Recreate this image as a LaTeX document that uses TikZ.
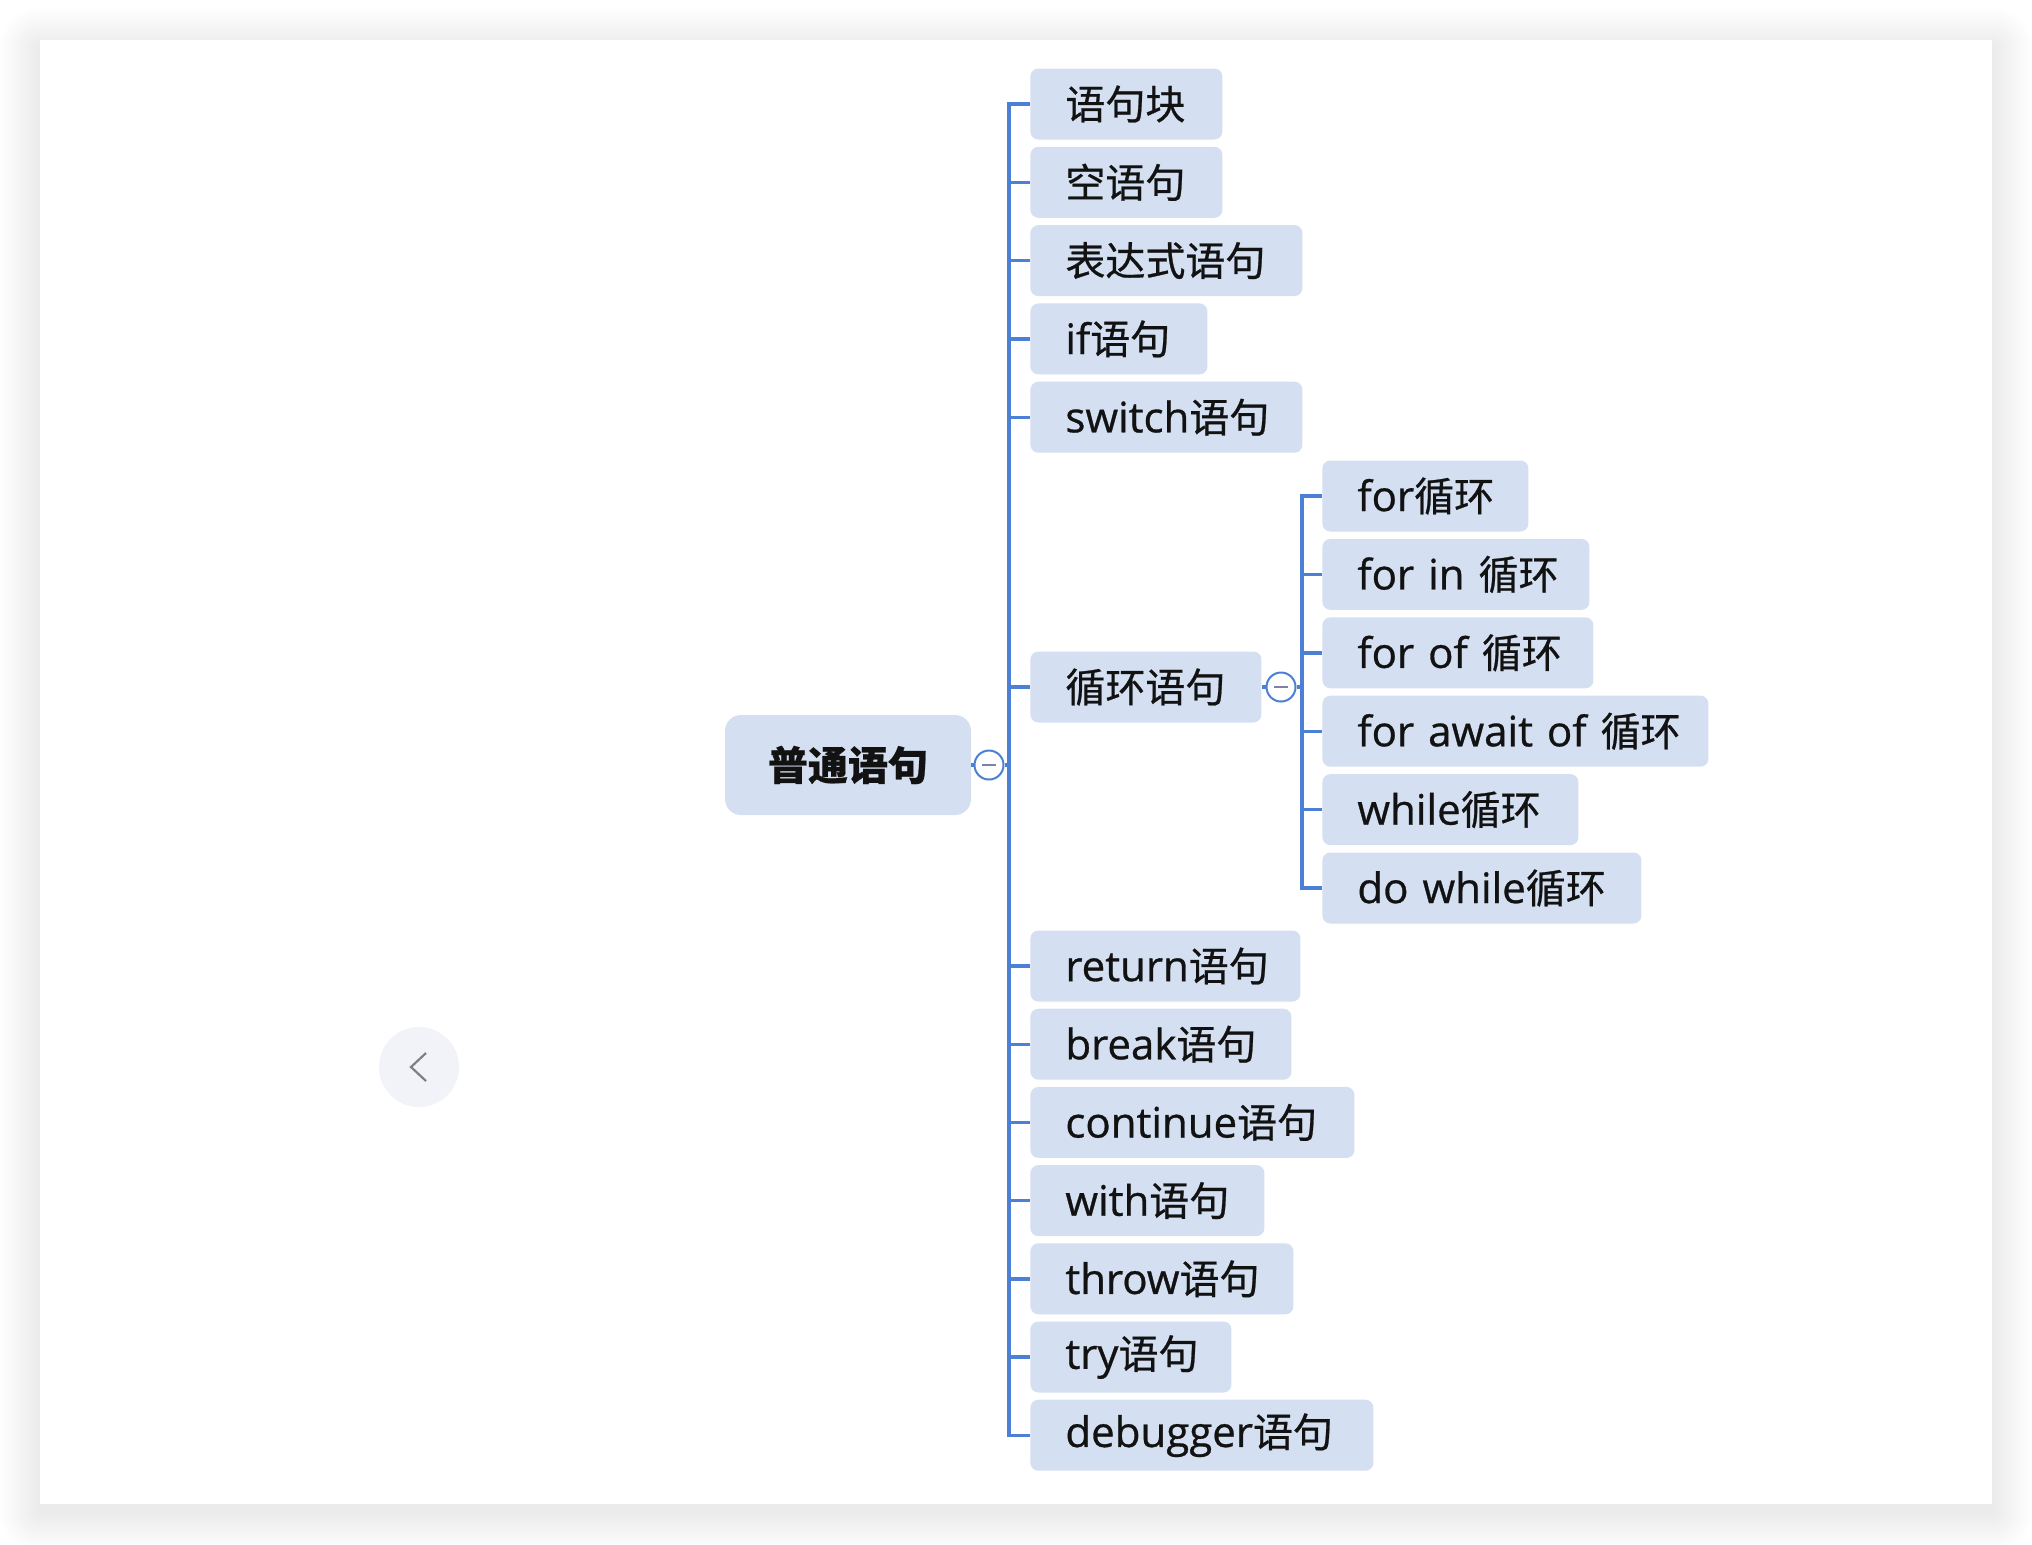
\documentclass[tikz,border=0pt]{standalone}
\usepackage{fontspec}
\setmainfont[FakeBold=0.7]{Open Sans}
\newfontfamily\zhfont[FakeBold=0.6]{Noto Sans CJK SC}
\newcommand\zh[1]{{\zhfont\fontsize{20}{25}\selectfont #1}}

\definecolor{linkblue}{RGB}{76,128,212}
\definecolor{boxblue}{RGB}{212,224,241}
\definecolor{minusgray}{RGB}{125,128,175}
\definecolor{btngray}{RGB}{242,243,249}
\definecolor{chevgray}{RGB}{128,128,128}
\definecolor{inkblack}{RGB}{18,18,18}

\tikzset{
  topic/.style={fill=boxblue, rounded corners=4pt, minimum height=35.5pt, inner xsep=17.5pt, inner ysep=0pt, anchor=west, align=left, text=inkblack, font=\fontsize{21}{25}\selectfont},
  branch/.style={draw=linkblue, line width=1.7pt},
  fold/.style={circle, draw=linkblue, line width=1pt, fill=white, minimum size=14.5pt, inner sep=0pt},
  foldbar/.style={draw=minusgray, line width=1.2pt}
}

\begin{document}
\begin{tikzpicture}[x=0.5pt, y={(0pt,-0.5pt)}]
\useasboundingbox (0,0) rectangle (2032,1544);

% page, card and its shadow
\fill[white] (0,0) rectangle (2032,1544);
\foreach \k in {1,...,20}
\fill[black, opacity=0.0042, rounded corners=\k pt] (40-2*\k,48-2*\k) rectangle (1992+2*\k,1512+2*\k);
\fill[white] (40,40) rectangle (1992,1504);

% back button
\node[circle, fill=btngray, minimum size=40pt, inner sep=0pt] (back) at (419,1067) {};
\draw[chevgray, line width=1.1pt] ([xshift=3.5pt,yshift=7pt]back.center) -- ([xshift=-4pt]back.center) -- ([xshift=3.5pt,yshift=-7pt]back.center);

% root
\node[fill=boxblue, rounded corners=8pt, minimum width=123pt, minimum height=50pt, inner sep=0pt, text=inkblack] (root) at (848,765) {\zh{\bfseries 普通语句}};
\node[fold] (rootfold) at (989,765) {};
\draw[foldbar] ([xshift=-3.5pt]rootfold.center) -- ([xshift=3.5pt]rootfold.center);
\coordinate (trunk) at (1009,765);
\draw[branch] (root.east) -- (rootfold.west);
\draw[branch] (rootfold.east) -- (trunk);

% upper statements
\foreach \w/\t [count=\i from 0] in {192/\zh{语句块}, 192/\zh{空语句}, 272/\zh{表达式语句}, 177/if\zh{语句}, 272/switch\zh{语句}}
{
\pgfmathsetmacro{\tw}{\w/2-35}
\node[topic, text width=\tw pt] (upper\i) at (1030,104+78.3*\i) {\mbox{\t}};
\draw[branch] (trunk) |- (upper\i.west);
}

% loops
\node[topic, text width=80.5pt] (loop) at (1030,687) {\mbox{\zh{循环语句}}};
\node[fold] (loopfold) at (1281,687) {};
\draw[foldbar] ([xshift=-3.5pt]loopfold.center) -- ([xshift=3.5pt]loopfold.center);
\coordinate (looptrunk) at (1302,687);
\draw[branch] (trunk) |- (loop.west);
\draw[branch] (loop.east) -- (loopfold.west);
\draw[branch] (loopfold.east) -- (looptrunk);
\foreach \w/\t [count=\i from 0] in {206/for\zh{循环}, 267/for in \zh{循环}, 271/for of \zh{循环}, 386/for await of \zh{循环}, 256/while\zh{循环}, 319/do while\zh{循环}}
{
\pgfmathsetmacro{\tw}{\w/2-35}
\node[topic, text width=\tw pt] (loop\i) at (1322,496+78.4*\i) {\mbox{\t}};
\draw[branch] (looptrunk) |- (loop\i.west);
}

% lower statements
\foreach \w/\t [count=\i from 0] in {270/return\zh{语句}, 261/break\zh{语句}, 324/continue\zh{语句}, 234/with\zh{语句}, 263/throw\zh{语句}, 201/try\zh{语句}, 343/debugger\zh{语句}}
{
\pgfmathsetmacro{\tw}{\w/2-35}
\node[topic, text width=\tw pt] (lower\i) at (1030,966+78.2*\i) {\mbox{\t}};
\draw[branch] (trunk) |- (lower\i.west);
}

\end{tikzpicture}
\end{document}
